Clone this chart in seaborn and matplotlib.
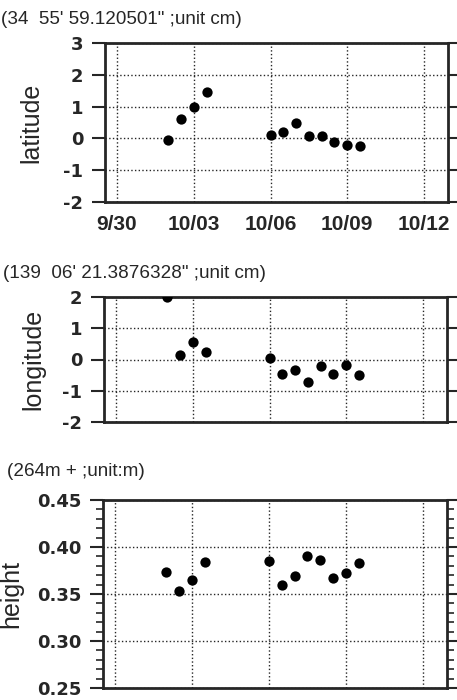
import pandas as pd
import matplotlib
matplotlib.use("Agg")
import matplotlib.pyplot as plt
import matplotlib.ticker as mticker
import seaborn as sns
from matplotlib import font_manager

# observation times (half-day steps)
times = ["2001-10-02 00:00", "2001-10-02 12:00", "2001-10-03 00:00", "2001-10-03 12:00",
         "2001-10-06 00:00", "2001-10-06 12:00", "2001-10-07 00:00", "2001-10-07 12:00",
         "2001-10-08 00:00", "2001-10-08 12:00", "2001-10-09 00:00", "2001-10-09 12:00"]
latitude = [-0.05, 0.6, 1.0, 1.45, 0.1, 0.2, 0.47, 0.07, 0.08, -0.12, -0.2, -0.25]
longitude = [2.0, 0.15, 0.57, 0.23, 0.05, -0.45, -0.33, -0.72, -0.22, -0.45, -0.17, -0.48]
height = [0.373, 0.353, 0.365, 0.384, 0.385, 0.360, 0.369, 0.390, 0.386, 0.367, 0.372, 0.383]

tick_dates = ["2001-09-30", "2001-10-03", "2001-10-06", "2001-10-09", "2001-10-12"]
tick_labels = ["9/30", "10/03", "10/06", "10/09", "10/12"]

titles = ["(34  55' 59.120501\" ;unit cm)", "(139  06' 21.3876328\" ;unit cm)", "(264m + ;unit:m)"]
ylabels = ["latitude", "longitude", "height"]

df = pd.DataFrame({"time": pd.to_datetime(times), "latitude": latitude,
                   "longitude": longitude, "height": height})

sns.set_style("ticks")
plt.rcParams["font.family"] = ["Liberation Sans", "DejaVu Sans"]
plt.rcParams["axes.unicode_minus"] = False

names = {f.name for f in font_manager.fontManager.ttflist}
narrow = "Liberation Sans Narrow" if "Liberation Sans Narrow" in names else "Liberation Sans"

fig = plt.figure(figsize=(4.57, 7.0), dpi=100)

# axes boxes in figure fractions: left, bottom, width, height
boxes = [(105 / 457, 498 / 700, 343 / 457, 159 / 700),
         (104 / 457, 278 / 700, 343 / 457, 125 / 700),
         (103 / 457, 12 / 700, 344 / 457, 188 / 700)]
ylims = [(-2, 3), (-2, 2), (0.25, 0.45)]
yticks = [[-2, -1, 0, 1, 2, 3], [-2, -1, 0, 1, 2], [0.25, 0.30, 0.35, 0.40, 0.45]]
label_x = [-0.181, -0.172, -0.232]
title_xy = [(0.002, 1 - 19 / 700), (0.006, 1 - 273 / 700), (0.015, 1 - 472 / 700)]

xlim = (pd.Timestamp("2001-09-29 12:45"), pd.Timestamp("2001-10-12 22:30"))

for i, col in enumerate(ylabels):
    ax = fig.add_axes(boxes[i])
    sns.scatterplot(data=df, x="time", y=col, ax=ax, color="black", s=55,
                    edgecolor="black", linewidth=0, zorder=3)
    ax.set_xlim(xlim)
    ax.set_ylim(ylims[i])
    ax.set_xticks(pd.to_datetime(tick_dates))
    if i == 0:
        ax.set_xticklabels(tick_labels, fontsize=15, fontweight="bold", family=narrow)
    else:
        ax.set_xticklabels([])
    ax.set_yticks(yticks[i])
    if i == 2:
        ax.yaxis.set_major_formatter(mticker.FormatStrFormatter("%.2f"))
        ax.yaxis.set_minor_locator(mticker.MultipleLocator(0.01))
        ax.tick_params(axis="y", which="minor", direction="out", length=5,
                       width=1.2, left=True, right=True)
    for lab in ax.get_yticklabels():
        lab.set_fontsize(13)
        lab.set_fontweight("bold")
        lab.set_family("DejaVu Sans")
    ax.tick_params(axis="y", which="major", direction="out", length=9.5, width=1.5,
                   left=True, right=True, pad=6)
    ax.tick_params(axis="x", length=0, pad=9)
    ax.grid(True, linestyle=":", color="0.15", linewidth=1.0)
    for sp in ax.spines.values():
        sp.set_linewidth(2)
        sp.set_visible(True)
    ax.set_xlabel("")
    ax.set_ylabel(col, fontsize=18)
    ax.yaxis.set_label_coords(label_x[i], 0.5)
    fig.text(title_xy[i][0], title_xy[i][1], titles[i], fontsize=13.6, ha="left", va="center",
             family=narrow)

fig.savefig("out.png", dpi=100)
